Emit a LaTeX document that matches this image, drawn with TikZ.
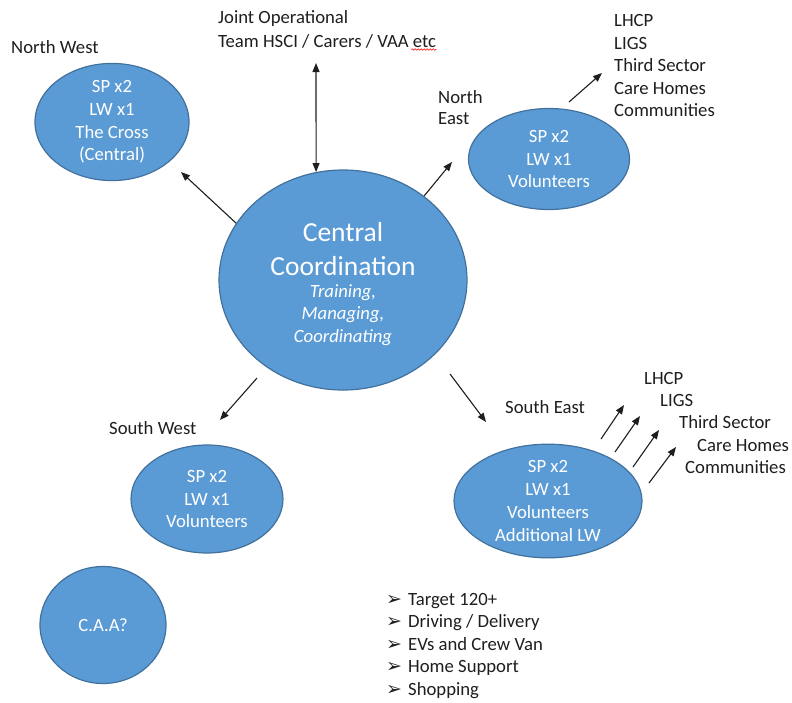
\documentclass[tikz,border=0pt]{standalone}
\usepackage{fontspec}
\setmainfont{Carlito}
\newfontfamily\dejavu{DejaVu Sans}
\usetikzlibrary{shapes.geometric,arrows.meta,decorations.pathmorphing}
\definecolor{blobfill}{HTML}{5B9BD5}
\definecolor{blobline}{HTML}{41719C}
\definecolor{ink}{HTML}{1E1E1E}
\begin{document}
\begin{tikzpicture}[x=1pt,y=-1pt,
  >={Triangle[length=9pt,width=7pt]},
  blob/.style={ellipse,fill=blobfill,draw=blobline,line width=1.2pt,text=white,
    align=center,inner sep=0pt,font=\fontsize{18.7}{22.7}\selectfont},
  lbl/.style={anchor=base west,inner sep=0pt,font=\fontsize{18.7}{22.7}\selectfont,text=ink},
  ctxt/.style={anchor=base,inner sep=0pt,text=white},
  arr/.style={->,line width=1.1pt,draw=ink}]
\useasboundingbox (0,0) rectangle (792,702);

% ellipses
\node[blob,minimum width=154pt,minimum height=104pt] (nw) at (112,122)
  {SP x2\\LW x1\\The Cross\\(Central)};
\node[blob,minimum width=248pt,minimum height=220pt] (cc) at (343,280) {};
\node[blob,minimum width=161pt,minimum height=101pt] (ne) at (549,159)
  {SP x2\\LW x1\\Volunteers};
\node[blob,minimum width=152pt,minimum height=108pt] (sw) at (207,499)
  {SP x2\\LW x1\\Volunteers};
\node[blob,minimum width=188pt,minimum height=93pt] (se) at (548,501)
  {SP x2\\LW x1\\Volunteers\\Additional LW};
\node[blob,minimum width=126pt,minimum height=117pt] (caa) at (103,625) {C.A.A?};

% central text
\node[ctxt,font=\fontsize{27.5}{33}\selectfont] (cc1) at (343,241) {Central};
\node[ctxt,font=\fontsize{27.5}{33}\selectfont] (cc2) at (343,275) {Coordination};
\node[ctxt,font=\fontsize{18.7}{22.7}\selectfont\itshape] (cc3) at (343,297) {Training,};
\node[ctxt,font=\fontsize{18.7}{22.7}\selectfont\itshape] (cc4) at (343,319.5) {Managing,};
\node[ctxt,font=\fontsize{18.7}{22.7}\selectfont\itshape] (cc5) at (343,342) {Coordinating};

% labels
\node[lbl] (lnw) at (11,53.5) {North West};
\node[lbl] (lj1) at (218,23) {Joint Operational};
\node[lbl] (lj2) at (218,47) {Team HSCI / Carers / VAA etc};
\draw[red,line width=0.6pt,decorate,decoration={snake,amplitude=0.7pt,segment length=3pt}]
  (lj2.south east) ++(-25,1.5) -- ++(25,0);
\node[lbl] (lne1) at (438,103) {North};
\node[lbl] (lne2) at (438,124.5) {East};
\node[lbl] (ln1) at (614,26.7) {LHCP};
\node[lbl] (ln2) at (614,49.2) {LIGS};
\node[lbl] (ln3) at (614,71.7) {Third Sector};
\node[lbl] (ln4) at (614,94.2) {Care Homes};
\node[lbl] (ln5) at (614,116.7) {Communities};
\node[lbl] (lse) at (505,413) {South East};
\node[lbl] (ls1) at (644,384) {LHCP};
\node[lbl] (ls2) at (660,406) {LIGS};
\node[lbl] (ls3) at (679,428) {Third Sector};
\node[lbl] (ls4) at (697,451) {Care Homes};
\node[lbl] (ls5) at (685,473) {Communities};
\node[lbl] (lsw) at (109,434) {South West};

% bullet list
\foreach \t [count=\i] in {Target 120+,Driving / Delivery,EVs and Crew Van,Home Support,Shopping}{
  \node[lbl] (b\i) at (408,{605+22.5*(\i-1)}) {\t};
  \node[lbl,font=\dejavu\fontsize{19}{19}\selectfont] (bb\i) at (386,{605+22.5*(\i-1)}) {➢};
}

% connectors
\coordinate (nwtip) at (181,172);
\draw[arr] (cc.152) -- (nwtip);
\coordinate (jtop) at (316,63);
\draw[arr,<->] (jtop) -- (cc.104);
\coordinate (netip) at (452,162);
\draw[arr] (cc.46) -- (netip);
\coordinate (swtail) at (257,378);
\coordinate (swtip) at (220,420);
\draw[arr] (swtail) -- (swtip);
\coordinate (setail) at (450,374);
\coordinate (setip) at (486,422);
\draw[arr] (setail) -- (setip);
\coordinate (nltail) at (569,102);
\coordinate (nltip) at (602,73);
\draw[arr] (nltail) -- (nltip);
\coordinate (s1t) at (601,439); \coordinate (s1h) at (624,405);
\coordinate (s2t) at (615,452); \coordinate (s2h) at (640,416);
\coordinate (s3t) at (633,467); \coordinate (s3h) at (659,430);
\coordinate (s4t) at (649,483); \coordinate (s4h) at (676,447);
\draw[arr] (s1t) -- (s1h);
\draw[arr] (s2t) -- (s2h);
\draw[arr] (s3t) -- (s3h);
\draw[arr] (s4t) -- (s4h);
\end{tikzpicture}
\end{document}
